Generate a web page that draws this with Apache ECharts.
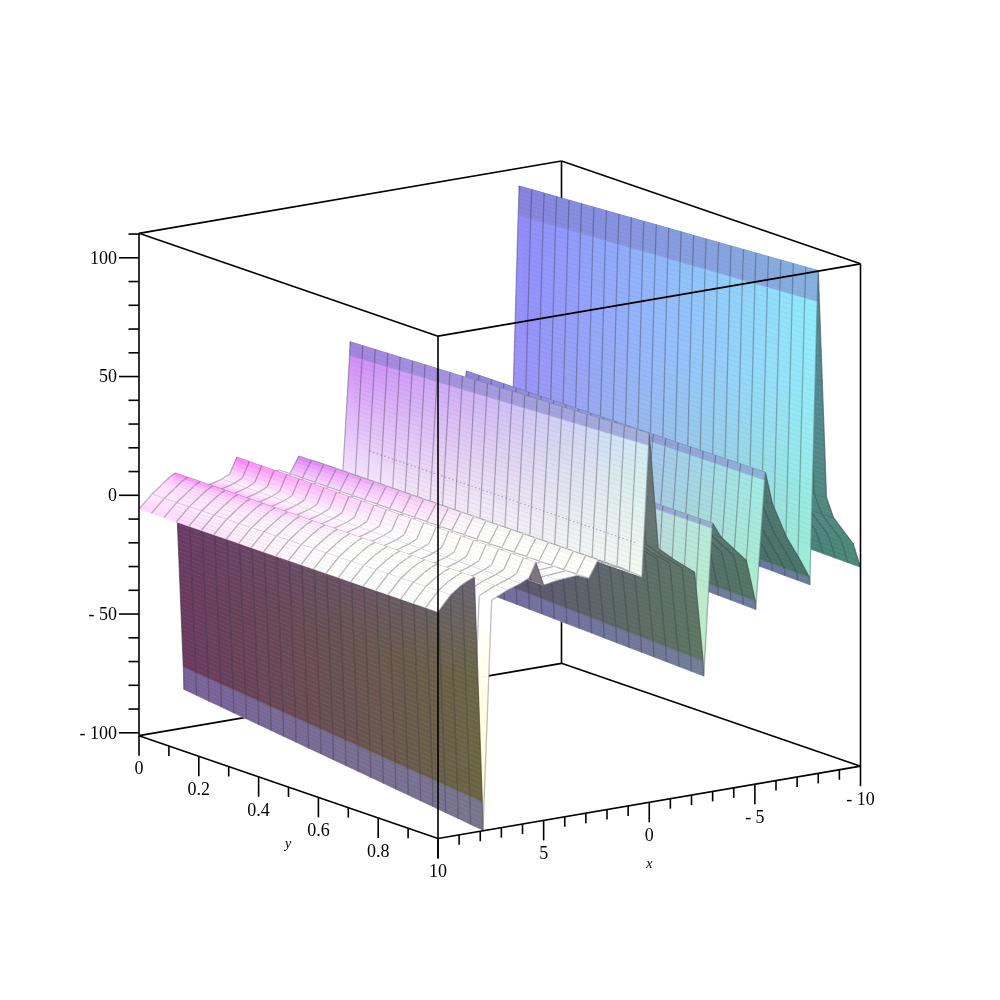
<!DOCTYPE html>
<html><head><meta charset="utf-8">
<style>html,body{margin:0;padding:0;background:#fff}#c{width:1000px;height:1000px}</style>
<script src="https://cdn.jsdelivr.net/npm/echarts@6/dist/echarts.min.js"></script>
</head><body><div id="c"></div>
<script>
// ---------- data ----------
const xSamples = [10,9.4,8.9,8.55,8.28,7.9,7.87,7.46,6.7,6.1,5.7,5.37,5,4.33,3.38,2.86,2.43,1.3,0.35,0.03,0,-0.43,-1.2,-2.15,-2.55,-2.58,-2.97,-3,-3.4,-4.6,-5.02,-5.04,-5.46,-5.5,-5.83,-6.5,-7.16,-7.58,-7.6,-7.95,-8,-8.39,-8.72,-9.66,-10];
const zAtYZero = [-5.8,-0.5,3,5.5,6.8,-75.4,-85,-4,-0.6,0.8,2.5,9,-1.1,-0.1,0.5,-1.8,5,0,-4.7,43.6,49.4,5.5,0,-6,-40,-47,9.5,11.5,6,-5,-21,-23.5,25.5,28.7,15.5,1.5,-8.5,-15,-18,90.5,102.8,14.5,6,-5.5,-15];
const zAtYOne  = [-5.8,0.4,3.7,5.3,6.2,-89,-101,-4.7,-1.6,0.2,1.9,8,-2.1,-1.1,-0.5,-2.5,4.4,-0.5,-5.7,49,54,5,-1,-7.6,-45.6,-52,9.5,11.8,5.3,-6.4,-24,-27.7,26,29.4,15.7,0.6,-10.3,-18,-21.2,97.4,110.5,14.5,5.5,-7.1,-17.5];
const yTickValues = [0,0.2,0.4,0.6,0.8];
const yTickLabels = ['0','0.2','0.4','0.6','0.8'];
const xTickValues = [10,5,0,-5,-10];
const xTickLabels = ['10','5','0','- 5','- 10'];
const zTickValues = [100,50,0,-50,-100];
const zTickLabels = ['100','50','0','- 50','- 100'];
const dottedZ = 6.6;

// ---------- facet look, one entry per x interval ----------
const U = -0.5, T = -0.42, W = -0.57;
const lightStart = [.62,.78,.7,.45,W,W,.45,.92,.42,.88,.65,-.5,.78,.9,.82,.6,.65,.65,.75,0,U,U,U,U,U,.1,0,U,U,U,U,.1,0,U,U,U,U,U,.12,0,T,T,T,T];
const lightEnd   = [.78,.7,.45,-.1,W,W,.95,.42,.88,.65,-.08,-.5,.9,.82,.6,-.1,.65,.65,.04,0,U,U,U,U,U,.03,0,U,U,U,U,.02,0,U,U,U,U,U,.03,0,T,T,T,T];
const bandIntervals = [5,19,24,26,30,32,37,39];
const crossLineAt = [1,8,9,13,14,15,17,21,28,34,41,42];

// ---------- view (parallel projection of the box) ----------
const view = {ox:139, oy:495.3, xdx:422.5, xdy:-72.3, ydx:299, ydy:102.8, zdy:-2.375};
const zMin = -101.2, zMax = 110.3;
function project(x,y,z){
  const t=(10-x)/20;
  return [view.ox+t*view.xdx+y*view.ydx, view.oy+t*view.xdy+y*view.ydy+z*view.zdy];
}
const clamp=(v,a,b)=>Math.max(a,Math.min(b,v));
function shade(x,y,z,L,band){
  let r=clamp(205+8*x,0,245), g=135+100*y, b;
  const lifted = x>0.5 && L>-0.2;
  if(x>4) b=250-Math.min(1,Math.max(0,-z/40))*(30+60*y);
  else b=250-clamp((60-z)/80,0,1.2)*(10+40*y);
  if(lifted){
    r=clamp(205+8*x+70*y,0,255);
    g=Math.min(255,135+190*y);
    if(z>-20) b=250;
  }
  if(L>=0){r+=(255-r)*L;g+=(255-g)*L;b+=(255-b)*L;}
  else{const m=1+L;r*=m;g*=m;b*=m;}
  if(band){r+=(130-r)*.55;g+=(130-g)*.55;b+=(200-b)*.55;}
  return 'rgb('+Math.round(r)+','+Math.round(g)+','+Math.round(b)+')';
}
const Y_STRIPS=24;
const MESH='rgba(40,40,50,0.3)';

function surfaceChildren(api){
  const kids=[];
  const C=(x,y,z)=>api.coord(project(x,y,z));
  const zAt=(i,y)=>zAtYZero[i]+(zAtYOne[i]-zAtYZero[i])*y;
  const line=(a,b,st)=>({type:'line',silent:true,shape:{x1:a[0],y1:a[1],x2:b[0],y2:b[1]},style:st});
  for(let i=xSamples.length-2;i>=0;i--){
    const x0=xSamples[i],x1=xSamples[i+1];
    const isBand=bandIntervals.indexOf(i)>=0;
    const p0=project(x0,0,zAt(i,0)),p1=project(x1,0,zAt(i+1,0));
    const q0=project(x0,1,zAt(i,1)),q1=project(x1,1,zAt(i+1,1));
    const len=Math.max(Math.hypot(p0[0]-p1[0],p0[1]-p1[1]),Math.hypot(q0[0]-q1[0],q0[1]-q1[1]));
    const rows=Math.max(1,Math.ceil(len/5));
    const cols=Y_STRIPS;
    for(let r=rows-1;r>=0;r--){
      const t0=r/rows,t1=(r+1)/rows,tm=(t0+t1)/2;
      const xa=x0+(x1-x0)*t0,xb=x0+(x1-x0)*t1,xm=x0+(x1-x0)*tm;
      const L=lightStart[i]+(lightEnd[i]-lightStart[i])*tm;
      for(let c=0;c<cols;c++){
        const ya=c/cols,yb=(c+1)/cols,ym=(ya+yb)/2;
        const za0=zAt(i,ya)+(zAt(i+1,ya)-zAt(i,ya))*t0, za1=zAt(i,ya)+(zAt(i+1,ya)-zAt(i,ya))*t1;
        const zb0=zAt(i,yb)+(zAt(i+1,yb)-zAt(i,yb))*t0, zb1=zAt(i,yb)+(zAt(i+1,yb)-zAt(i,yb))*t1;
        const col=shade(xm,ym,(za0+za1+zb0+zb1)/4,L,isBand);
        kids.push({type:'polygon',silent:true,shape:{points:[C(xa,ya,za0),C(xb,ya,za1),C(xb,yb,zb1),C(xa,yb,zb0)]},
          style:{fill:col,stroke:col,lineWidth:0.5}});
      }
    }
    for(let j=0;j<=Y_STRIPS;j++){
      const y=j/Y_STRIPS;
      kids.push(line(C(x0,y,zAt(i,y)),C(x1,y,zAt(i+1,y)),{stroke:MESH,lineWidth:1.3}));
    }
    if(crossLineAt.indexOf(i)>=0){
      kids.push(line(C(x0,0,zAt(i,0)),C(x0,1,zAt(i,1)),{stroke:MESH,lineWidth:1.2}));
    }
    if(i===18){ // faint intersection trace on the wall at x=0
      const a=C(0.1,0.07,dottedZ),b=C(0.1,0.96,dottedZ);
      kids.push({type:'line',silent:true,shape:{x1:a[0],y1:a[1],x2:b[0],y2:b[1]},
        style:{stroke:'rgba(90,70,130,0.75)',lineWidth:0.7,lineDash:[1.5,2.5]}});
    }
  }
  return kids;
}
const BLK={stroke:'#000',lineWidth:1.6};
function seg(api,a,b,dx1,dy1,dx2,dy2){
  const p=api.coord(a),q=api.coord(b);
  return {type:'line',silent:true,shape:{x1:p[0]+(dx1||0),y1:p[1]+(dy1||0),x2:q[0]+(dx2||0),y2:q[1]+(dy2||0)},style:BLK};
}
function backBox(api){
  const P=project;
  return [
    seg(api,P(-10,0,zMin),P(-10,0,zMax)),
    seg(api,P(-10,0,zMin),P(10,0,zMin)),
    seg(api,P(-10,0,zMin),P(-10,1,zMin)),
    seg(api,P(-10,0,zMax),P(10,0,zMax)),
    seg(api,P(-10,0,zMax),P(-10,1,zMax))
  ];
}
function text(api,pt,dx,dy,str,font,align){
  const p=api.coord(pt);
  return {type:'text',silent:true,style:{x:p[0]+dx,y:p[1]+dy,text:str,font:font,fill:'#000',textAlign:align||'center',textVerticalAlign:'middle'}};
}
function frontBox(api){
  const P=project, k=[
    seg(api,P(10,1,zMin),P(10,1,zMax)),
    seg(api,P(10,0,zMin),P(10,0,zMax)),
    seg(api,P(-10,1,zMin),P(-10,1,zMax)),
    seg(api,P(10,0,zMax),P(10,1,zMax)),
    seg(api,P(10,1,zMax),P(-10,1,zMax)),
    seg(api,P(10,0,zMin),P(10,1,zMin)),
    seg(api,P(10,1,zMin),P(-10,1,zMin))
  ];
  const F='18px "Liberation Serif"', FI='italic 14px "Liberation Serif"';
  for(let v=-100;v<=110;v+=10){
    const a=P(10,0,v);
    k.push(seg(api,a,a,0,0,v%50===0?-20:-10.5,0));
  }
  for(let i=0;i<=10;i++){
    const a=P(10,i/10,zMin);
    k.push(seg(api,a,a,0,0,0,i%2===0?20:10));
  }
  for(let v=-10;v<=10;v+=1){
    const a=P(v,1,zMin);
    k.push(seg(api,a,a,0,0,0,v%5===0?20:10));
  }
  zTickValues.forEach((v,i)=>k.push(text(api,P(10,0,v),-22,1,zTickLabels[i],F,'right')));
  yTickValues.forEach((v,i)=>k.push(text(api,P(10,v,zMin),0,34,yTickLabels[i],F)));
  xTickValues.forEach((v,i)=>k.push(text(api,P(v,1,zMin),0,34,xTickLabels[i],F)));
  k.push(text(api,P(10,0.505,zMin),-2,57,'y',FI));
  k.push(text(api,P(0,1,zMin),0,62,'x',FI));
  return k;
}
const one=[[0,0]];
const chart=echarts.init(document.getElementById('c'),null,{renderer:'canvas',width:1000,height:1000});
chart.setOption({
  animation:false,backgroundColor:'#fff',
  grid:{left:0,right:0,top:0,bottom:0},
  tooltip:{show:false},
  xAxis:{type:'value',min:0,max:1000,show:false},
  yAxis:{type:'value',min:0,max:1000,inverse:true,show:false},
  series:[
    {type:'custom',z:1,silent:true,clip:false,data:one,renderItem:(p,api)=>({type:'group',children:backBox(api)})},
    {type:'custom',z:2,silent:true,clip:false,data:one,renderItem:(p,api)=>({type:'group',children:surfaceChildren(api)})},
    {type:'custom',z:3,silent:true,clip:false,data:one,renderItem:(p,api)=>({type:'group',children:frontBox(api)})}
  ]
});
</script></body></html>
